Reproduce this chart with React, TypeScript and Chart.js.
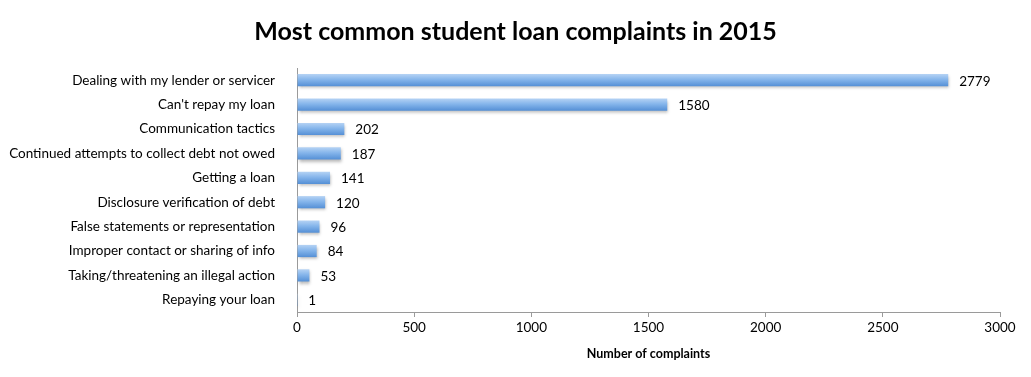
import React, { useEffect, useRef } from "react";
import { Chart, registerables } from "chart.js";

Chart.register(...registerables);

const categories = [
  "Dealing with my lender or servicer",
  "Can't repay my loan",
  "Communication tactics",
  "Continued attempts to collect debt not owed",
  "Getting a loan",
  "Disclosure verification of debt",
  "False statements or representation",
  "Improper contact or sharing of info",
  "Taking/threatening an illegal action",
  "Repaying your loan",
];
const complaints = [2779, 1580, 202, 187, 141, 120, 96, 84, 53, 1];
const xTicks = [0, 500, 1000, 1500, 2000, 2500, 3000];

const FONT = "Lato, 'Open Sans', sans-serif";

export default function App() {
  const ref = useRef<HTMLCanvasElement | null>(null);
  useEffect(() => {
    document.body.style.margin = "0";
    const canvas = ref.current!;
    const shadowPlugin = {
      id: "barShadow",
      beforeDatasetsDraw(chart: any) {
        const c = chart.ctx;
        c.save();
        c.shadowColor = "rgba(0,0,0,0.28)";
        c.shadowBlur = 3;
        c.shadowOffsetX = 1;
        c.shadowOffsetY = 2;
      },
      afterDatasetsDraw(chart: any) {
        const c = chart.ctx;
        c.restore();
        const meta = chart.getDatasetMeta(0);
        c.save();
        c.font = `13.5px ${FONT}`;
        c.fillStyle = "#000";
        c.textBaseline = "middle";
        c.textAlign = "left";
        meta.data.forEach((el: any, i: number) => {
          c.fillText(String(complaints[i]), el.x + 11, el.y + 1);
        });
        c.restore();
      },
    };
    const chart = new Chart(canvas, {
      type: "bar",
      data: {
        labels: categories,
        datasets: [
          {
            data: complaints,
            barPercentage: 0.5,
            categoryPercentage: 1,
            borderWidth: 0,
            backgroundColor: (ctx: any) => {
              const ch = ctx.chart;
              const ys = ch.scales && ch.scales.y;
              if (!ys || ctx.dataIndex === undefined) return "#7aaee8";
              const cy = ys.getPixelForValue(ctx.dataIndex);
              if (!isFinite(cy)) return "#7aaee8";
              const g = ch.ctx.createLinearGradient(0, cy - 6, 0, cy + 6);
              g.addColorStop(0, "#b4d2f4");
              g.addColorStop(0.45, "#85b5eb");
              g.addColorStop(1, "#5590d6");
              return g;
            },
          },
        ],
      },
      options: {
        indexAxis: "y",
        animation: false,
        responsive: false,
        maintainAspectRatio: false,
        layout: { padding: { left: 0, right: 0, top: 0, bottom: 16 } },
        plugins: {
          legend: { display: false },
          tooltip: { enabled: false },
          title: {
            display: true,
            text: "Most common student loan complaints in 2015",
            color: "#000",
            font: { family: FONT, size: 25, weight: "bold", lineHeight: 1.2 },
            padding: { top: 17, bottom: 21 },
          },
        },
        scales: {
          x: {
            min: 0,
            max: 3000,
            afterBuildTicks: (s: any) => {
              s.ticks = xTicks.map((v) => ({ value: v }));
            },
            afterFit: (s: any) => {
              s.height = 49;
            },
            grid: {
              drawOnChartArea: false,
              drawTicks: true,
              tickLength: 5,
              color: "#9a9a9a",
            },
            border: { display: true, color: "#9a9a9a" },
            ticks: {
              color: "#000",
              font: { family: FONT, size: 13.5 },
              padding: 3,
              callback: (v: any) => String(v),
            },
            title: {
              display: true,
              text: "Number of complaints",
              color: "#000",
              font: { family: FONT, size: 12.5, weight: "bold" },
              padding: { top: 8, bottom: 0 },
            },
          },
          y: {
            afterFit: (s: any) => {
              s.width = 297;
            },
            grid: { display: false },
            border: { display: true, color: "#9a9a9a" },
            ticks: {
              color: "#000",
              font: { family: FONT, size: 13.5 },
              padding: 14,
              autoSkip: false,
            },
          },
          ySpacer: {
            type: "linear",
            position: "right",
            display: true,
            grid: { display: false },
            border: { display: false },
            ticks: { display: false },
            afterFit: (s: any) => {
              s.width = 31;
            },
          },
        },
      },
      plugins: [shadowPlugin],
    } as any);
    return () => chart.destroy();
  }, []);
  return (
    <div style={{ position: "absolute", left: 0, top: 0, width: 1031, height: 377, background: "#fff" }}>
      <canvas ref={ref} width={1031} height={377} style={{ width: 1031, height: 377 }} />
    </div>
  );
}
